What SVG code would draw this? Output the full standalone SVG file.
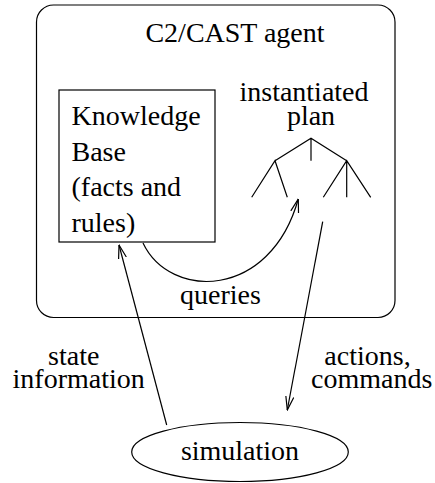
<svg xmlns="http://www.w3.org/2000/svg" width="435" height="483" viewBox="0 0 435 483" font-family="'Liberation Serif', 'Times New Roman', serif">
<style>
text{font-family:'Liberation Serif','Times New Roman',serif;font-size:28px;fill:#000}
.c{text-anchor:middle}
.s{fill:none;stroke:#000;stroke-width:1.2}
</style>
<defs>
<marker id="ah" markerUnits="userSpaceOnUse" viewBox="0 0 14 10" refX="13.5" refY="5" markerWidth="14" markerHeight="10" orient="auto">
<path d="M0,1 L13.5,5 L0,9" fill="none" stroke="#000" stroke-width="1.2"/>
</marker>
</defs>
<rect width="435" height="483" fill="#fff"/>
<g id="agent">
<rect class="s" x="36.5" y="5" width="358.5" height="312.5" rx="17" ry="17"/>
<text class="c" x="235" y="41.5">C2/CAST agent</text>
</g>
<g id="kb">
<rect class="s" x="59" y="90" width="156" height="152"/>
<text x="71.5" y="125">Knowledge</text>
<text x="71.5" y="160.5">Base</text>
<text x="71.5" y="196">(facts and</text>
<text x="71.5" y="231.5">rules)</text>
</g>
<g id="plan">
<text class="c" x="304" y="101">instantiated</text>
<text class="c" x="311" y="124.5">plan</text>
<path class="s" d="M275,160.7 L311,138.3 L346.7,160.7 M311,138.3 L311,160.7 M251.7,197.3 L275,160.7 L287.3,197.3 M323.3,197.3 L346.7,160.7 L370.7,197.3 M346.7,160.7 L346.7,197.3"/>
</g>
<g id="simulation">
<ellipse class="s" cx="240" cy="452" rx="108.3" ry="29.5"/>
<text class="c" x="240" y="460">simulation</text>
</g>
<g id="connectors">
<path class="s" d="M143,243 C170,300 270,300 298.3,199" marker-end="url(#ah)"/>
<line class="s" x1="166.7" y1="425" x2="119" y2="245" marker-end="url(#ah)"/>
<line class="s" x1="322.7" y1="221.7" x2="287.3" y2="410" marker-end="url(#ah)"/>
<text class="c" x="220.5" y="303.5">queries</text>
<text class="c" x="73.7" y="365">state</text>
<text class="c" x="78.7" y="388.3">information</text>
<text class="c" x="367.5" y="365">actions,</text>
<text class="c" x="371.7" y="388.3">commands</text>
</g>
</svg>
